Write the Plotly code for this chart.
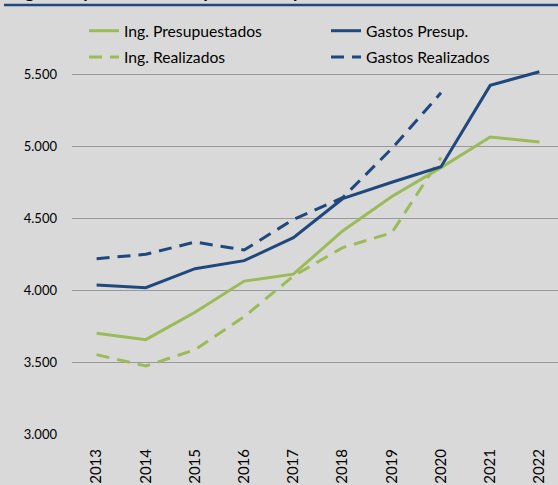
import plotly.graph_objects as go

years = ["2013", "2014", "2015", "2016", "2017", "2018", "2019", "2020", "2021", "2022"]
ing_presup = [3700, 3655, 3845, 4062, 4110, 4410, 4650, 4850, 5062, 5028]
gastos_presup = [4035, 4016, 4148, 4204, 4363, 4634, 4748, 4856, 5421, 5516]
ing_real = [3551, 3472, 3585, 3815, 4097, 4294, 4398, 4920]
gastos_real = [4217, 4248, 4333, 4278, 4490, 4641, 4982, 5370]
yticks = [3000, 3500, 4000, 4500, 5000, 5500]
ytick_text = ["3.000", "3.500", "4.000", "4.500", "5.000", "5.500"]
title_text = "<b>Ingresos y Gastos Presupuestados y Realizados</b>"

GREEN = "#9BBB59"
BLUE = "#1F497D"
FONT = "Lato"
DASH = "13px,8px"

fig = go.Figure()
fig.add_trace(go.Scatter(x=years, y=ing_presup, name="Ing. Presupuestados", mode="lines",
                         legend="legend", legendgroup="a",
                         line=dict(color=GREEN, width=3)))
fig.add_trace(go.Scatter(x=years[:len(ing_real)], y=ing_real, name="Ing. Realizados", mode="lines",
                         legend="legend", legendgroup="b",
                         line=dict(color=GREEN, width=3, dash=DASH)))
fig.add_trace(go.Scatter(x=years, y=gastos_presup, name="Gastos Presup.", mode="lines",
                         legend="legend2", legendgroup="c",
                         line=dict(color=BLUE, width=3)))
fig.add_trace(go.Scatter(x=years[:len(gastos_real)], y=gastos_real, name="Gastos Realizados", mode="lines",
                         legend="legend2", legendgroup="d",
                         line=dict(color=BLUE, width=3, dash=DASH)))

W, H = 558, 485
L, R, T, B = 72, 0, 67, 51
plot_h = H - T - B
plot_w = W - L - R


def px_x(x):
    return (x - L) / plot_w


def px_y(y):
    return (H - B - y) / plot_h


leg_common = dict(orientation="v", xanchor="left", yanchor="top",
                  font=dict(family=FONT, size=15.7, color="#000000"),
                  bgcolor="rgba(0,0,0,0)", tracegroupgap=3, itemwidth=30,
                  borderwidth=0)

fig.update_layout(
    width=W, height=H,
    margin=dict(l=L, r=R, t=T, b=B, pad=0),
    paper_bgcolor="#D9D9D9",
    plot_bgcolor="#D9D9D9",
    font=dict(family=FONT, size=13, color="#000000"),
    showlegend=True,
    legend=dict(x=px_x(84), y=px_y(14), **leg_common),
    legend2=dict(x=px_x(326), y=px_y(14), **leg_common),
    xaxis=dict(type="category", range=[-0.5, -0.5 + plot_w / 49.2],
               showgrid=False, showline=False, zeroline=False,
               tickangle=-90, ticks="", ticklabelstandoff=11,
               tickfont=dict(family=FONT, size=15)),
    yaxis=dict(range=[3000, 3000 + plot_h * 500 / 72], tickvals=yticks, ticktext=ytick_text,
               showgrid=True, gridcolor="#999999", gridwidth=1.2,
               showline=False, zeroline=False, ticks="", ticklabelstandoff=14,
               tickfont=dict(family=FONT, size=13)),
    annotations=[dict(text=title_text, xref="paper", yref="paper",
                      x=px_x(8), y=px_y(2.6),
                      xanchor="left", yanchor="bottom", showarrow=False, borderpad=0,
                      font=dict(family=FONT, size=18.5, color="#000000"))],
    shapes=[dict(type="line", xref="paper", yref="paper", layer="above",
                 x0=px_x(4), x1=1.0, y0=px_y(5), y1=px_y(5),
                 line=dict(color=BLUE, width=2.5))],
)

fig.write_html("out.html", config={"displayModeBar": False},
               post_script="document.body.style.margin='0';")
